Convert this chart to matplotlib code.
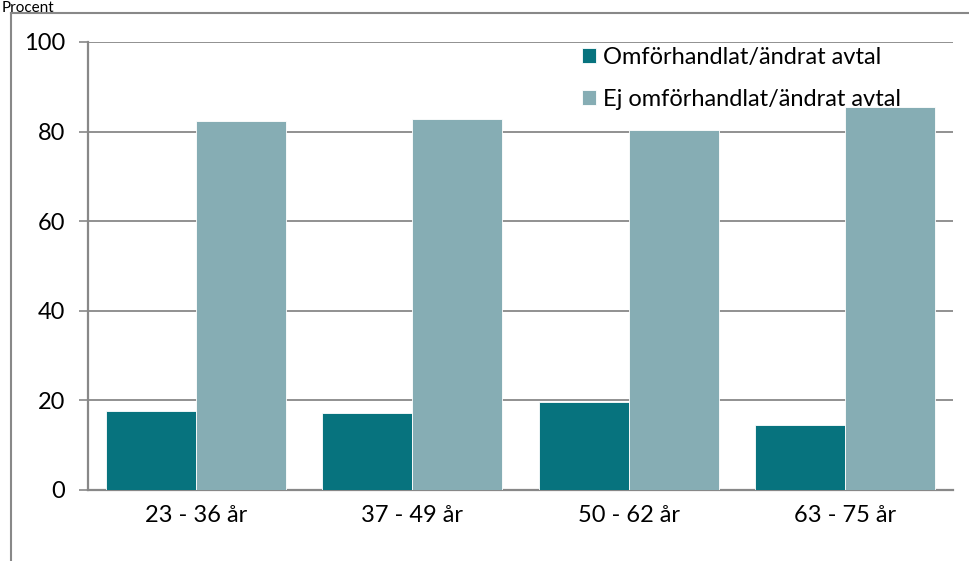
import numpy as np
import matplotlib.pyplot as plt
from matplotlib.lines import Line2D

# Andel med omförhandlat/ändrat avtal per åldersgrupp

categories = ["23 - 36 år", "37 - 49 år", "50 - 62 år", "63 - 75 år"]
omforhandlat = [17.6, 17.2, 19.6, 14.5]
ej_omforhandlat = [82.4, 82.8, 80.4, 85.5]
series_labels = ["Omförhandlat/ändrat avtal", "Ej omförhandlat/ändrat avtal"]
yticks = [0, 20, 40, 60, 80, 100]

plt.rcParams['font.family'] = ['Lato', 'DejaVu Sans']
fs = 17

W, H = 969, 561
fig = plt.figure(figsize=(W / 100, H / 100), dpi=100)
ax = fig.add_axes([88 / W, 1 - 490 / H, (953 - 88) / W, (490 - 42) / H])

x = np.arange(len(categories))
width = 0.416
ax.bar(x - width / 2, omforhandlat, width, color='#07737E', edgecolor='white',
       linewidth=0.6, label=series_labels[0], zorder=3)
ax.bar(x + width / 2, ej_omforhandlat, width, color='#86ADB4', edgecolor='white',
       linewidth=0.6, label=series_labels[1], zorder=3)

ax.set_xlim(-0.5, len(categories) - 0.5)
ax.set_ylim(0, 100)
ax.set_yticks(yticks)
ax.set_xticks(x)
ax.set_xticklabels(categories, fontsize=fs)
ax.tick_params(axis='y', labelsize=fs, length=6.5, width=1.2, color='#888888', pad=10)
ax.tick_params(axis='x', length=0, pad=11)
ax.grid(axis='y', color='#888888', linewidth=1.3, zorder=0)
for s in ['top', 'right']:
    ax.spines[s].set_visible(False)
for s in ['left', 'bottom']:
    ax.spines[s].set_color('#888888')
    ax.spines[s].set_linewidth(1.6)

ax.legend(loc='upper left', bbox_to_anchor=(0.56, 1.01), frameon=False, fontsize=fs,
          handlelength=0.6, handleheight=0.6, handletextpad=0.3, labelspacing=0.9,
          borderaxespad=0)

# outer frame of the chart area
fig.add_artist(Line2D([11 / W, 11 / W], [0, 1 - 13 / H], color='#888888', linewidth=1.5))
fig.add_artist(Line2D([11 / W, 1], [1 - 13 / H, 1 - 13 / H], color='#888888', linewidth=1.5))
fig.text(2 / W, 1 - 1 / H, "Procent", fontsize=11, va='top', ha='left')

fig.savefig("out.png", dpi=100)
